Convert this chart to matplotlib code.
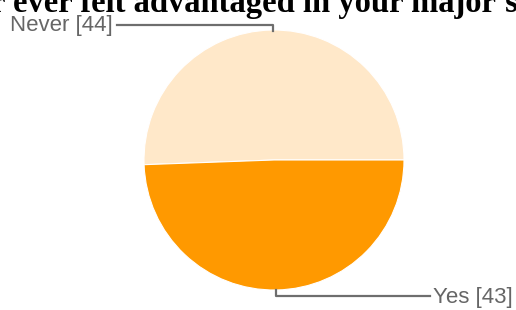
import matplotlib.pyplot as plt

labels = ["Never", "Yes"]
counts = [44, 43]
colors = ["#ffe8c9", "#ff9900"]

W, H = 516, 310
fig = plt.figure(figsize=(W / 100, H / 100), dpi=100)

# pie centre ~ (274, 160) px, radius ~130 px
cx, cy, r = 274, 160, 130
ax = fig.add_axes([(cx - r) / W, (H - cy - r) / H, 2 * r / W, 2 * r / H])
ax.pie(counts, colors=colors, startangle=0, counterclock=True,
       wedgeprops=dict(edgecolor="white", linewidth=0.8))
ax.set_xlim(-1, 1)
ax.set_ylim(-1, 1)
ax.set_aspect("equal")
ax.axis("off")

def px(x, y):
    return (x - cx) / r, (cy - y) / r

line_kw = dict(color="#6e6e6e", linewidth=1.6, clip_on=False)
text_kw = dict(color="#666666", fontsize=16, family="Liberation Sans")

# Never leader
x0, y0 = px(273, 31)
x1, y1 = px(273, 25)
x2, _ = px(117, 25)
ax.plot([x0, x1, x2], [y0, y1, y1], **line_kw)
tx, ty = px(113, 25)
ax.text(tx, ty, f"{labels[0]} [{counts[0]}]", ha="right", va="center", **text_kw)

# Yes leader
x0, y0 = px(276, 290)
x1, y1 = px(276, 296)
x2, _ = px(430, 296)
ax.plot([x0, x1, x2], [y0, y1, y1], **line_kw)
tx, ty = px(433, 297)
ax.text(tx, ty, f"{labels[1]} [{counts[1]}]", ha="left", va="center", **text_kw)

# title, clipped at the top of the image
fig.text(1 + 2 / W, 1 - 12 / H, "r ever felt advantaged in your major's",
         ha="right", va="baseline", fontsize=23.5, fontweight="bold",
         family="Liberation Serif", color="black")

fig.savefig("out.png", dpi=100)
